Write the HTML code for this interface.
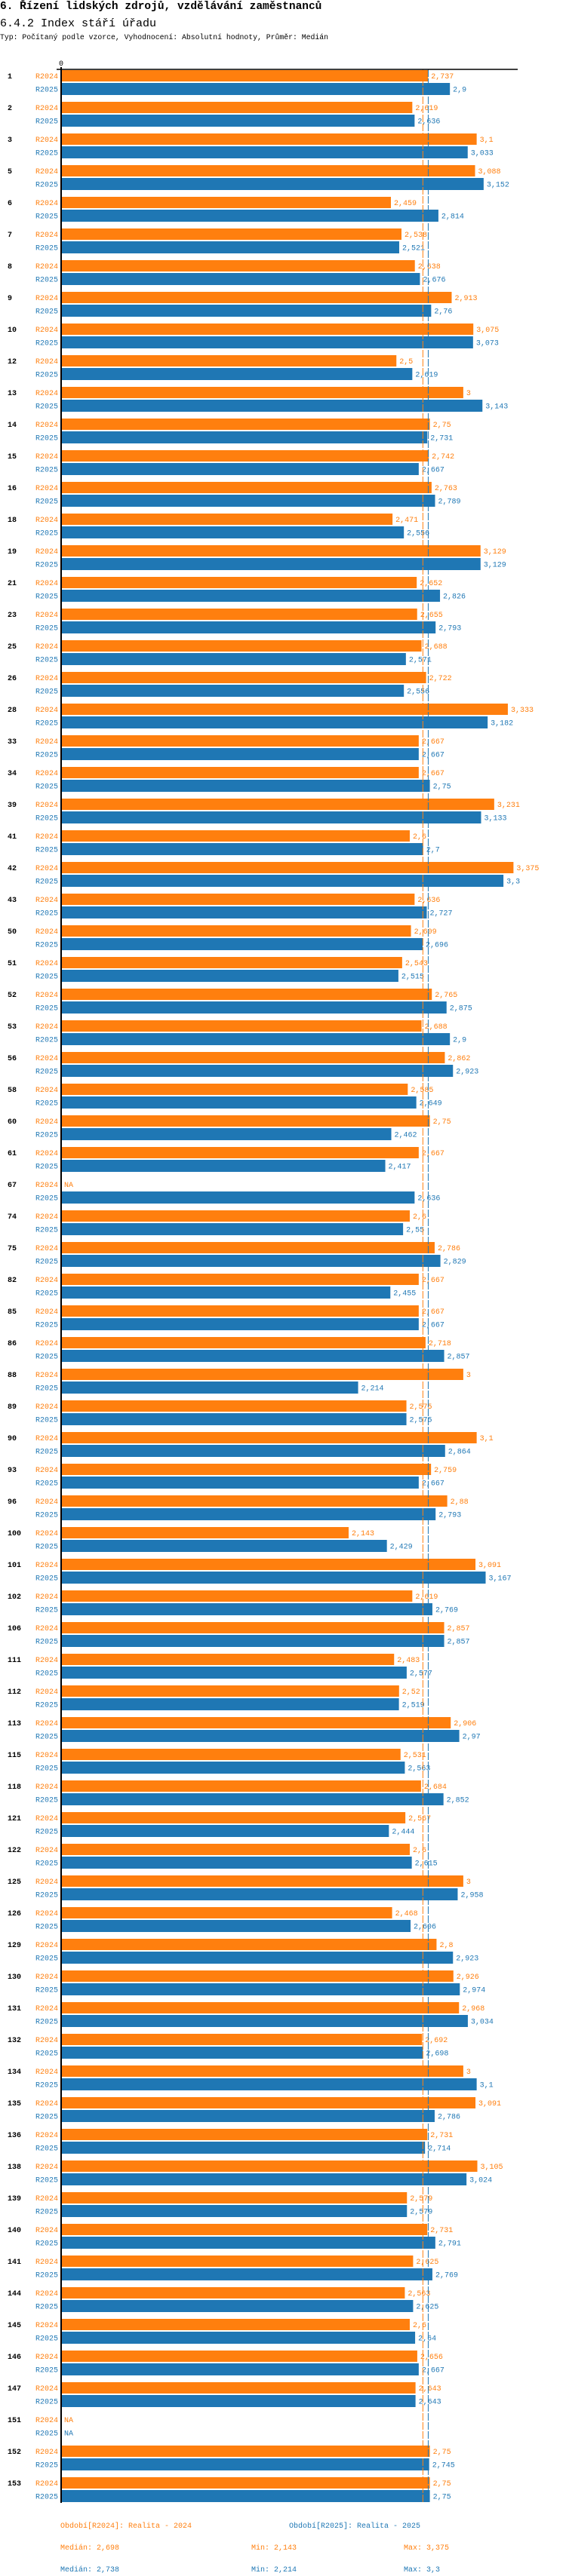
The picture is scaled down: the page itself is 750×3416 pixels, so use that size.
<!DOCTYPE html>
<html><head><meta charset="utf-8">
<style>
html,body{margin:0;padding:0;background:#fff;}
body{width:750px;height:3416px;overflow:hidden;position:relative;font-family:"Liberation Mono",monospace;}
.t1{position:absolute;left:0;top:1px;font-size:14.5px;font-weight:bold;color:#000;white-space:nowrap;}
.t2{position:absolute;left:0;top:23px;font-size:15px;color:#000;white-space:nowrap;}
.t3{position:absolute;left:0;top:44px;font-size:9.8px;color:#000;white-space:nowrap;}
svg{position:absolute;left:0;top:0;}
</style></head>
<body>
<div class="t1">6. Řízení lidských zdrojů, vzdělávání zaměstnanců</div>
<div class="t2">6.4.2 Index stáří úřadu</div>
<div class="t3">Typ: Počítaný podle vzorce, Vyhodnocení: Absolutní hodnoty, Průměr: Medián</div>
<svg id="chart" width="750" height="3416" font-family="Liberation Mono, monospace"></svg>
<script>
const groups = [1,2,3,5,6,7,8,9,10,12,13,14,15,16,18,19,21,23,25,26,28,33,34,39,41,42,43,50,51,52,53,56,58,60,61,67,74,75,82,85,86,88,89,90,93,96,100,101,102,106,111,112,113,115,118,121,122,125,126,129,130,131,132,134,135,136,138,139,140,141,144,145,146,147,151,152,153];
const values2024 = [2.737,2.619,3.1,3.088,2.459,2.538,2.638,2.913,3.075,2.5,3,2.75,2.742,2.763,2.471,3.129,2.652,2.655,2.688,2.722,3.333,2.667,2.667,3.231,2.6,3.375,2.636,2.609,2.543,2.765,2.688,2.862,2.585,2.75,2.667,null,2.6,2.786,2.667,2.667,2.718,3,2.575,3.1,2.759,2.88,2.143,3.091,2.619,2.857,2.483,2.52,2.906,2.531,2.684,2.567,2.6,3,2.468,2.8,2.926,2.968,2.692,3,3.091,2.731,3.105,2.579,2.731,2.625,2.563,2.6,2.656,2.643,null,2.75,2.75];
const values2025 = [2.9,2.636,3.033,3.152,2.814,2.521,2.676,2.76,3.073,2.619,3.143,2.731,2.667,2.789,2.556,3.129,2.826,2.793,2.571,2.556,3.182,2.667,2.75,3.133,2.7,3.3,2.727,2.696,2.515,2.875,2.9,2.923,2.649,2.462,2.417,2.636,2.55,2.829,2.455,2.667,2.857,2.214,2.575,2.864,2.667,2.793,2.429,3.167,2.769,2.857,2.577,2.519,2.97,2.563,2.852,2.444,2.615,2.958,2.606,2.923,2.974,3.034,2.698,3.1,2.786,2.714,3.024,2.579,2.791,2.769,2.625,2.64,2.667,2.643,null,2.745,2.75];
const seriesNames = ["R2024","R2025"];
const medians = [2.698,2.738];
const mins = [2.143,2.214];
const maxs = [3.375,3.3];

const svg = document.getElementById('chart');
const NS = 'http://www.w3.org/2000/svg';
const C = ['#ff7f0e','#1f77b4'];
const X0 = 82, SCALE = 177.3, TOP = 92, PITCH = 42;
const xScale = v => X0 + v * SCALE;
const yGroup = i => TOP + i * PITCH;
function el(tag, attrs, text){
  const e = document.createElementNS(NS, tag);
  for (const k in attrs) e.setAttribute(k, attrs[k]);
  if (text !== undefined) e.textContent = text;
  svg.appendChild(e);
  return e;
}
const fmt = v => String(v).replace('.', ',');
const bottom = yGroup(groups.length) - 7;

groups.forEach((g, i) => {
  const y = yGroup(i);
  const gl = el('text', {x: 10, y: y + 12, 'font-size': 10, 'font-weight': 'bold', fill: '#000'}, String(g));
  
  
  [values2024[i], values2025[i]].forEach((v, s) => {
    const by = y + (s === 0 ? 1 : 18);
    const bh = s === 0 ? 15 : 16;
    const sl = el('text', {x: 77, y: by + bh / 2 + 3.5, 'font-size': 10, fill: C[s], 'text-anchor': 'end'}, seriesNames[s]);
    
    
    if (v === null) {
      const na = el('text', {x: X0 + 3, y: by + bh / 2 + 3.5, 'font-size': 10, fill: C[s]}, 'NA');
      
      
      return;
    }
    const r = el('rect', {x: X0, y: by, width: xScale(v) - X0, height: bh, fill: C[s]});
    
    
    const vl = el('text', {x: xScale(v) + 4, y: by + bh / 2 + 3.5, 'font-size': 10, fill: C[s]}, fmt(v));
    
    
  });
});

medians.forEach((m, s) => {
  const ml = el('line', {x1: xScale(m), x2: xScale(m), y1: TOP, y2: bottom, stroke: C[s], 'stroke-width': 1, 'stroke-dasharray': '10,2'});
  
  
});

const ax = el('line', {x1: 75, x2: 686, y1: TOP, y2: TOP, stroke: '#000', 'stroke-width': 1.5});


const ay = el('line', {x1: X0 - 1, x2: X0 - 1, y1: TOP - 3, y2: bottom, stroke: '#000', 'stroke-width': 2});


const z = el('text', {x: X0 - 1, y: 87, 'font-size': 10, fill: '#000', 'text-anchor': 'middle'}, '0');



const legX = [80, 383];
const legText = ['Období[R2024]: Realita - 2024', 'Období[R2025]: Realita - 2025'];
legText.forEach((t, s) => {
  const l = el('text', {x: legX[s], y: 3352, 'font-size': 10, fill: C[s]}, t);
  
  
});
[0, 1].forEach(s => {
  const yy = 3381 + s * 29;
  const a = el('text', {x: 80, y: yy, 'font-size': 10, fill: C[s]}, 'Medián: ' + fmt(medians[s]));
  
  
  const b = el('text', {x: 333, y: yy, 'font-size': 10, fill: C[s]}, 'Min: ' + fmt(mins[s]));
  
  
  const c = el('text', {x: 535, y: yy, 'font-size': 10, fill: C[s]}, 'Max: ' + fmt(maxs[s]));
  
  
});
</script>
</body></html>
